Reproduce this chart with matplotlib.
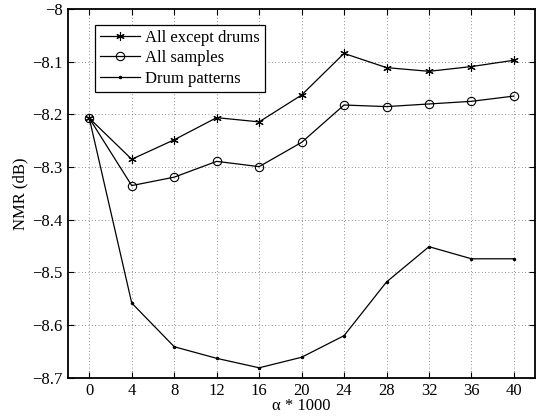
import numpy as np
import matplotlib
matplotlib.use("Agg")
import matplotlib.pyplot as plt
from matplotlib.ticker import FuncFormatter

plt.rcParams['font.family'] = ['Liberation Serif', 'DejaVu Serif']
plt.rcParams['axes.unicode_minus'] = True

# Data
alpha = [0, 4, 8, 12, 16, 20, 24, 28, 32, 36, 40]
all_except_drums = [-8.207, -8.285, -8.248, -8.206, -8.214, -8.163, -8.084, -8.111, -8.118, -8.109, -8.097]
all_samples = [-8.207, -8.335, -8.319, -8.289, -8.299, -8.253, -8.182, -8.185, -8.180, -8.175, -8.165]
drum_patterns = [-8.207, -8.558, -8.641, -8.663, -8.681, -8.661, -8.620, -8.518, -8.451, -8.474, -8.474]

fig = plt.figure(figsize=(5.4, 4.17), dpi=100)
ax = fig.add_axes([0.126, 0.094, 0.865, 0.884])

ax.plot(alpha, all_except_drums, color='black', lw=0.9, marker=(6, 2, 0), ms=6, mew=0.8,
        label='All except drums')
ax.plot(alpha, all_samples, color='black', lw=0.9, marker='o', ms=6, mfc='none', mew=0.8,
        label='All samples')
ax.plot(alpha, drum_patterns, color='black', lw=0.9, marker='.', ms=3,
        label='Drum patterns')

ax.set_xlim(-2, 42)
ax.set_ylim(-8.7, -8.0)
ax.set_xticks(alpha)
ax.set_yticks(np.arange(-8.7, -7.99, 0.1))
ax.yaxis.set_major_formatter(FuncFormatter(lambda v, p: ('%g' % round(v, 2)).replace('-', '\u2212')))
ax.grid(True, linestyle=(0, (1, 3)), color='0.4', lw=0.6)
ax.tick_params(direction='in', top=True, right=True, labelsize=12, length=4, pad=4)
for s in ax.spines.values():
    s.set_linewidth(1.3)

ax.set_xlabel('α * 1000', fontsize=12, labelpad=-1)
ax.set_ylabel('NMR (dB)', fontsize=12, labelpad=3)

leg = ax.legend(loc='upper left', bbox_to_anchor=(0.058, 0.958), fontsize=12, fancybox=False,
                framealpha=1, edgecolor='black', handlelength=2.4, borderpad=0.3,
                labelspacing=0.28, handletextpad=0.3, borderaxespad=0)
leg.get_frame().set_linewidth(0.9)

fig.savefig('out.png', dpi=100)
